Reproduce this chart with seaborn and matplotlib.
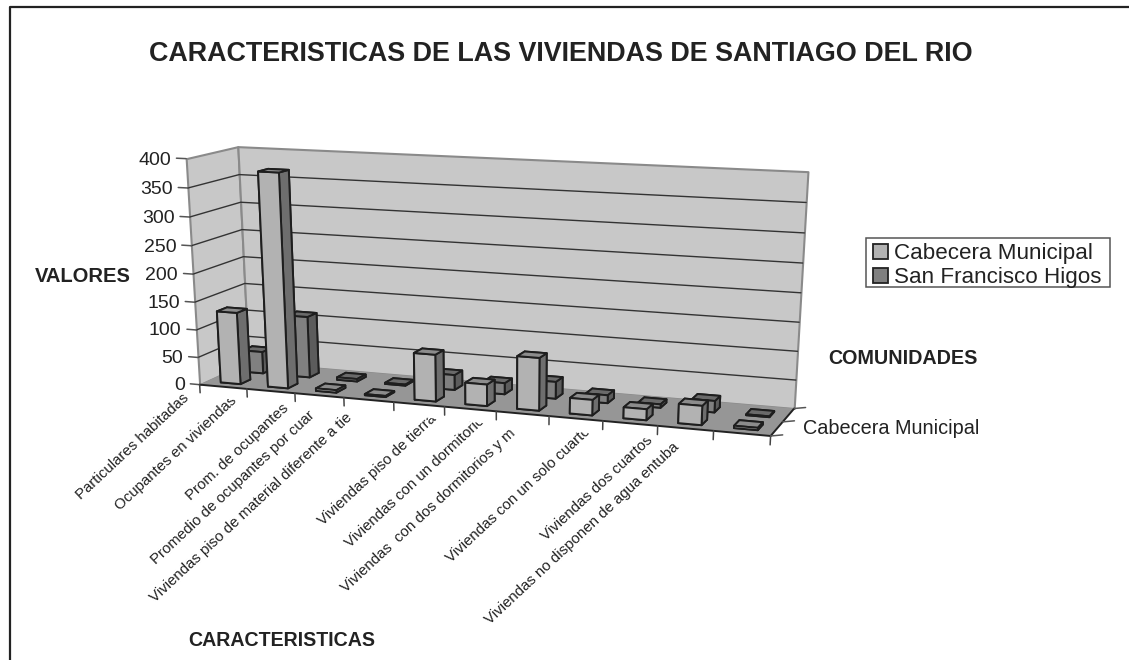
import numpy as np
import matplotlib
matplotlib.use("Agg")
import matplotlib.pyplot as plt
from matplotlib.lines import Line2D
from matplotlib.patches import Patch, Rectangle
from mpl_toolkits.mplot3d.art3d import Poly3DCollection
import seaborn as sns

W, H = 1129, 660

# ---- data ----
title = "CARACTERISTICAS DE LAS VIVIENDAS DE SANTIAGO DEL RIO"
categories = ["Particulares habitadas", "Ocupantes en viviendas", "Prom. de ocupantes",
              "Promedio de ocupantes por cuar", "Viviendas piso de material diferente a tie",
              "Viviendas piso de tierra", "Viviendas con un dormitorio",
              "Viviendas  con dos dormitorios y m", "Viviendas con un solo cuarto",
              "Viviendas dos cuartos", "Viviendas no disponen de agua entuba"]
series_names = ["Cabecera Municipal", "San Francisco Higos"]
cabecera = [130, 380, 4.5, 2, 83, 38, 92, 27, 19, 33, 4]
san_francisco = [40, 112, 4.5, 2, 27, 20, 30, 14, 6, 20, 1.5]
value_ticks = [0, 50, 100, 150, 200, 250, 300, 350, 400]

# ---- layout ----
# 3D box corners and where they fall in the picture (x px, y px from top)
anchors_3d = [(0, 0, 0), (0, 0, 400), (0, 1, 0), (0, 1, 400), (11, 1, 0), (11, 1, 400), (11, 0, 0), (5, 0, 0)]
anchors_px = [(199, 384), (187, 159), (249.5, 363), (237, 146), (794, 408), (808, 172), (771, 436), (444, 407)]
# start of each rotated category label (px)
label_starts = [(78, 497), (117, 508), (188, 498), (153, 562), (152, 600), (320, 523),
                (347, 545), (343, 590), (448, 560), (543, 538), (487, 622)]

sns.set_theme(style="white", font="Liberation Sans")
plt.rcParams["font.family"] = ["Liberation Sans", "DejaVu Sans"]
palette = sns.color_palette(["#b2b2b2", "#808080"])
TXT = "#222222"

fig = plt.figure(figsize=(W / 100, H / 100), dpi=100, facecolor="white")
ax = fig.add_axes([0, (H - W) / 2 / H, 1, W / H], projection="3d", computed_zorder=False, proj_type="ortho")
ax.set_axis_off()
ax.patch.set_visible(False)
ax.apply_aspect()


def fit_projection():
    disp = np.array([(x, H - y) for x, y in anchors_px], float)
    uv = ax.transData.inverted().transform(disp)
    A, b = [], []
    for (X, Y, Z), (u, v) in zip(anchors_3d, uv):
        A.append([X, Y, Z, 1, 0, 0, 0, 0, -u * X, -u * Y, -u * Z]); b.append(u)
        A.append([0, 0, 0, 0, X, Y, Z, 1, -v * X, -v * Y, -v * Z]); b.append(v)
    A = np.array(A); b = np.array(b)
    s = np.abs(A).max(axis=0); s[s == 0] = 1
    p = np.linalg.lstsq(A / s, b, rcond=None)[0] / s
    depth = [-1 / 11, 1, -1 / 400, 0]  # larger = farther from the viewer
    return np.array([p[:4], p[4:8], depth, [p[8], p[9], p[10], 1.0]])


M = fit_projection()
ax.get_proj = lambda: M


def project(x, y, z):
    q = M @ np.array([x, y, z, 1.0])
    return q[0] / q[3], q[1] / q[3]


# ---- mask that cuts the label ends along a line parallel to the floor edge ----
X1, V1 = 11, 400
ax.add_collection3d(Poly3DCollection([[(-3, 0, 0), (X1, 0, 0), (X1, 0, -24), (-3, 0, -21)]], facecolor="white",
                                     edgecolor="none", zorder=0))

# ---- walls and floor ----
wall = "#c8c8c8"
wall_edge = "#8a8a8a"
ax.add_collection3d(Poly3DCollection([[(0, 0, 0), (0, 1, 0), (0, 1, V1), (0, 0, V1)]], facecolor=wall,
                                     edgecolor=wall_edge, linewidth=1.5, zorder=1))
ax.add_collection3d(Poly3DCollection([[(0, 1, 0), (X1, 1, 0), (X1, 1, V1), (0, 1, V1)]], facecolor=wall,
                                     edgecolor=wall_edge, linewidth=1.5, zorder=1))
ax.add_collection3d(Poly3DCollection([[(0, 0, 0), (X1, 0, 0), (X1, 1, 0), (0, 1, 0)]], facecolor="#969696",
                                     edgecolor="none", zorder=2))

# ---- gridlines and ticks ----
for v in value_ticks:
    if v not in (0, 400):
        ax.plot([0, 0, X1], [0, 1, 1], [v, v, v], color="#333333", lw=1.0, zorder=3)
    ax.plot([-0.2, 0], [0, 0], [v, v], color="#555555", lw=1.1, zorder=3)
    u, w = project(-0.32, 0, v - 4)
    ax.text2D(u, w, str(v), transform=ax.transData, ha="right", va="center", fontsize=14, color=TXT, zorder=10)
ax.plot([0, X1], [0, 0], [0, 0], color="#222222", lw=1.4, zorder=3)
ax.plot([X1, X1], [0, 1], [0, 0], color="#222222", lw=1.4, zorder=3)
for k in range(X1 + 1):
    ax.plot([k, k], [0, 0], [0, -15], color="#444444", lw=1.1, zorder=3)
for y in (0, 0.5, 1):
    ax.plot([X1, X1 + 0.18], [y, y + 0.07], [0, 0], color="#555555", lw=1.1, zorder=3)

# ---- bars ----
dark = "#1e1e1e"
bar_w, bar_d = 0.42, 0.2
row_centres = [0.25, 0.72]
faces = [["#8c8c8c", "#8c8c8c", "#b2b2b2", "#b2b2b2", "#6e6e6e", "#6e6e6e"],
         ["#6a6a6a", "#6a6a6a", "#808080", "#808080", "#5c5c5c", "#5c5c5c"]]
zo = 20
for row, (vals, yc) in reversed(list(enumerate(zip([cabecera, san_francisco], row_centres)))):
    for i, v in enumerate(vals):
        ax.bar3d(i + 0.5 - bar_w / 2, yc - bar_d / 2, 0, bar_w, bar_d, v, color=faces[row], shade=False,
                 edgecolor=dark, linewidth=1.4, zorder=zo)
        zo += 1

# ---- texts in figure pixels ----
def ftext(x, y, s, **kw):
    return fig.text(x / W, 1 - y / H, s, color=TXT, **kw)


ftext(561, 54, title, ha="center", va="center", fontsize=19.4, fontweight="bold")
ftext(83, 276, "VALORES", ha="center", va="center", fontsize=14.5, fontweight="bold")
ftext(903, 358, "COMUNIDADES", ha="center", va="center", fontsize=14.2, fontweight="bold")
ftext(282, 641, "CARACTERISTICAS", ha="center", va="center", fontsize=14.1, fontweight="bold")
ftext(803, 428, series_names[0], ha="left", va="center", fontsize=14.3)

for name, (x, y) in zip(categories, label_starts):
    ftext(x, y, name, rotation=43, rotation_mode="anchor", ha="left", va="center", fontsize=10.8, zorder=-1)

# ---- legend ----
fig.add_artist(Rectangle((866 / W, 1 - 287 / H), 244 / W, 49 / H, transform=fig.transFigure,
                         facecolor="white", edgecolor="#555555", linewidth=1.1, zorder=5))
handles = [Patch(facecolor=palette[i], edgecolor="#222222", linewidth=1.3, label=series_names[i]) for i in range(2)]
leg = fig.legend(handles=handles, loc="upper left", bbox_to_anchor=(873 / W, 1 - 243.5 / H),
                 bbox_transform=fig.transFigure, fontsize=16.1, frameon=False, borderaxespad=0, borderpad=0,
                 labelspacing=0.12, handlelength=0.68, handleheight=0.68, handletextpad=0.25, labelcolor=TXT)
leg.set_zorder(6)

# ---- frame of the pasted picture ----
fig.add_artist(Line2D([10 / W, 10 / W, 1], [0, 1 - 7 / H, 1 - 7 / H], transform=fig.transFigure,
                      color="#222222", lw=1.6))

fig.savefig("out.png", dpi=100, facecolor="white")
